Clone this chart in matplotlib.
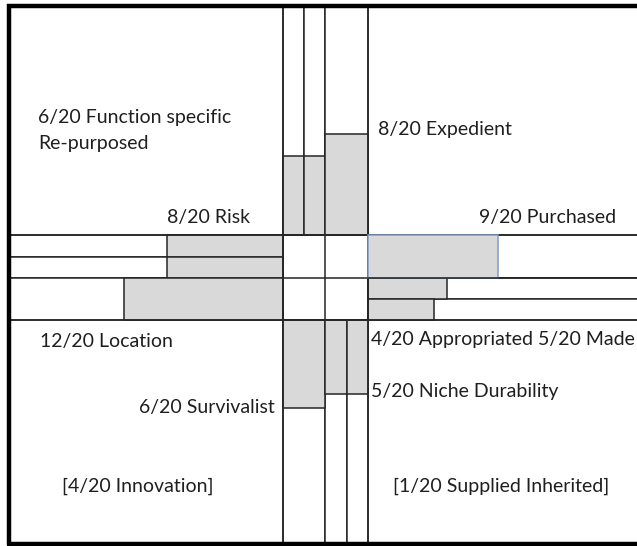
import matplotlib
matplotlib.use("Agg")
import matplotlib.pyplot as plt

# ---- data (fraction of each arm that is shaded) ----
top_names = ["Function specific", "Re-purposed", "Expedient"]
top_fill = [0.343, 0.343, 0.439]
left_names = ["Risk (a)", "Risk (b)", "Location"]
left_fill = [0.425, 0.425, 0.582]
right_names = ["Purchased", "Appropriated", "Made"]
right_fill = [0.483, 0.294, 0.245]
bottom_names = ["Survivalist", "Niche", "Durability"]
bottom_fill = [0.395, 0.332, 0.332]

labels = [
    ("6/20 Function specific", 38, 118, "left"),
    ("Re-purposed", 38, 143, "left"),
    ("8/20 Risk", 250, 218, "right"),
    ("8/20 Expedient", 378, 130, "left"),
    ("9/20 Purchased", 616, 217, "right"),
    ("12/20 Location", 40, 341, "left"),
    ("6/20 Survivalist", 275, 407, "right"),
    ("4/20 Appropriated 5/20 Made", 371, 340, "left"),
    ("5/20 Niche Durability", 371, 391, "left"),
    ("[4/20 Innovation]", 62, 486, "left"),
    ("[1/20 Supplied Inherited]", 393, 486, "left"),
]

# ---- layout ----
W, H = 637, 546
LEFT, TOP, BOTTOM, RIGHT = 10, 5, 543, 637
cx0, cx1 = 283, 368
cy0, cy1 = 235, 320
top_cols = [283, 304, 325, 368]
bot_cols = [283, 325, 347, 368]
left_rows = [235, 257, 278, 320]
right_rows = [235, 278, 299, 320]

GRAY = "#d9d9d9"
EDGE = "#262626"
BLUE = "#7f9cc4"
LW = 1.1

fig = plt.figure(figsize=(W / 100, H / 100), dpi=100)
ax = fig.add_axes([0, 0, 1, 1])
ax.set_xlim(0, W)
ax.set_ylim(H, 0)
ax.axis("off")

# top arm (vertical bars growing upward from the centre)
tlen = cy0 - TOP
tw = [top_cols[i + 1] - top_cols[i] for i in range(3)]
ax.bar(top_cols[:3], [-tlen] * 3, bottom=cy0, width=tw, align="edge",
       color="white", edgecolor=EDGE, linewidth=LW)
ax.bar(top_cols[:3], [-f * tlen for f in top_fill], bottom=cy0, width=tw,
       align="edge", color=GRAY, edgecolor=EDGE, linewidth=LW)

# bottom arm
blen = BOTTOM - cy1
bw = [bot_cols[i + 1] - bot_cols[i] for i in range(3)]
ax.bar(bot_cols[:3], [blen] * 3, bottom=cy1, width=bw, align="edge",
       color="white", edgecolor=EDGE, linewidth=LW)
ax.bar(bot_cols[:3], [f * blen for f in bottom_fill], bottom=cy1, width=bw,
       align="edge", color=GRAY, edgecolor=EDGE, linewidth=LW)

# left arm (horizontal bars growing leftward from the centre)
llen = cx0 - LEFT
lh = [left_rows[i + 1] - left_rows[i] for i in range(3)]
ax.barh(left_rows[:3], [-llen] * 3, left=cx0, height=lh, align="edge",
        color="white", edgecolor=EDGE, linewidth=LW)
ax.barh(left_rows[:3], [-f * llen for f in left_fill], left=cx0, height=lh,
        align="edge", color=GRAY, edgecolor=EDGE, linewidth=LW)

# right arm
rlen = RIGHT - cx1
rh = [right_rows[i + 1] - right_rows[i] for i in range(3)]
ax.barh(right_rows[:3], [rlen + 5] * 3, left=cx1, height=rh, align="edge",
        color="white", edgecolor=EDGE, linewidth=LW)
ax.barh(right_rows[1:3], [f * rlen for f in right_fill[1:]], left=cx1,
        height=rh[1:], align="edge", color=GRAY, edgecolor=EDGE, linewidth=LW)

# centre grid
ax.plot([cx0, cx1], [278, 278], color=EDGE, lw=LW)
ax.plot([325, 325], [cy0, cy1], color=EDGE, lw=LW)
ax.plot([cx0, cx0, cx1, cx1, cx0], [cy0, cy1, cy1, cy0, cy0], color=EDGE, lw=LW)

# long lines through the whole diagram
ax.plot([LEFT, RIGHT], [cy0, cy0], color=EDGE, lw=LW)
ax.plot([LEFT, RIGHT], [cy1, cy1], color=EDGE, lw=LW)
ax.plot([cx0, cx0], [TOP, BOTTOM], color=EDGE, lw=LW)
ax.plot([cx1, cx1], [TOP, BOTTOM], color=EDGE, lw=LW)

# purchased bar with its blue outline, on top
ax.barh(right_rows[0], right_fill[0] * rlen, left=cx1, height=rh[0],
        align="edge", color=GRAY, edgecolor=BLUE, linewidth=LW, zorder=3)
ax.plot([cx1, RIGHT], [278, 278], color=EDGE, lw=LW, zorder=4)

# outer frame (left, top, bottom)
ax.plot([8.5, 8.5], [4, 545], color="black", lw=3.2, solid_capstyle="butt", zorder=5)
ax.plot([7, W], [5.5, 5.5], color="black", lw=3.2, solid_capstyle="butt", zorder=5)
ax.plot([7, W], [543.5, 543.5], color="black", lw=3.2, solid_capstyle="butt", zorder=5)

for txt, x, y, ha in labels:
    ax.text(x, y, txt, ha=ha, va="center", fontsize=14, family="Lato",
            color="#1f1f1f")

fig.savefig("out.png", dpi=100)
